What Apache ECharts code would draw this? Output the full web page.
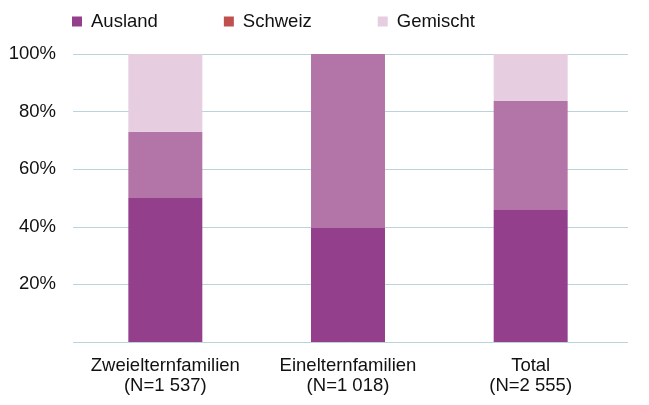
<!DOCTYPE html>
<html>
<head>
<meta charset="utf-8">
<script src="https://cdn.jsdelivr.net/npm/echarts@6/dist/echarts.min.js"></script>
<style>html,body{margin:0;padding:0;background:#fff}#c{width:649px;height:405px}</style>
</head>
<body>
<div id="c"></div>
<script>
const categories = ['Zweielternfamilien\n(N=1 537)', 'Einelternfamilien\n(N=1 018)', 'Total\n(N=2 555)'];
const seriesNames = ['Ausland', 'Schweiz', 'Gemischt'];
const ausland = [50.0, 39.6, 45.8];
const schweiz = [23.0, 60.4, 37.9];
const gemischt = [27.0, 0, 16.3];
const yTicks = [0, 20, 40, 60, 80, 100];

const barColors = ['#933f8b', '#b375a8', '#e6cde0'];
const legendColors = ['#933f8b', '#c0504d', '#e6cde0'];
const font = 'Liberation Sans, Arial, sans-serif';
const fs = 18.5;
const values = [ausland, schweiz, gemischt];
const yMin = yTicks[0], yMax = yTicks[yTicks.length - 1];

const chart = echarts.init(document.getElementById('c'), null, {renderer: 'canvas'});
chart.setOption({
  animation: false,
  backgroundColor: '#fff',
  legend: {
    left: 72, top: 12, padding: 0,
    itemWidth: 10, itemHeight: 10, itemGap: 66,
    icon: 'rect',
    textStyle: {fontFamily: font, fontSize: fs, color: '#111', padding: [0, 0, 0, 4]},
    data: seriesNames.map((n, i) => ({name: n, itemStyle: {color: legendColors[i]}}))
  },
  grid: [
    {left: 73, right: 21, top: 54, bottom: 63},
    {left: 74, right: 27, top: 54, bottom: 63}
  ],
  xAxis: [
    {type: 'value', gridIndex: 0, show: false, min: 0, max: 1},
    {
      type: 'category', gridIndex: 1,
      data: categories,
      axisLine: {show: false},
      axisTick: {show: false},
      axisLabel: {interval: 0, fontFamily: font, fontSize: fs, color: '#111', margin: 14, lineHeight: 20}
    }
  ],
  yAxis: [
    {
      type: 'value', gridIndex: 0, min: yMin, max: yMax, interval: 20,
      axisLine: {show: false}, axisTick: {show: false},
      splitLine: {lineStyle: {color: '#bcd2dc', width: 1}},
      axisLabel: {fontFamily: font, fontSize: fs, color: '#111', margin: 17,
        formatter: v => v === 0 ? '' : v + '%'}
    },
    {
      type: 'value', gridIndex: 1, min: yMin, max: yMax, interval: 20,
      show: false, splitLine: {show: false}
    }
  ],
  series: seriesNames.map((n, i) => ({
    name: n, type: 'bar', stack: 'total', barWidth: '40.5%',
    xAxisIndex: 1, yAxisIndex: 1,
    itemStyle: {color: barColors[i]},
    data: values[i]
  }))
});
</script>
</body>
</html>
